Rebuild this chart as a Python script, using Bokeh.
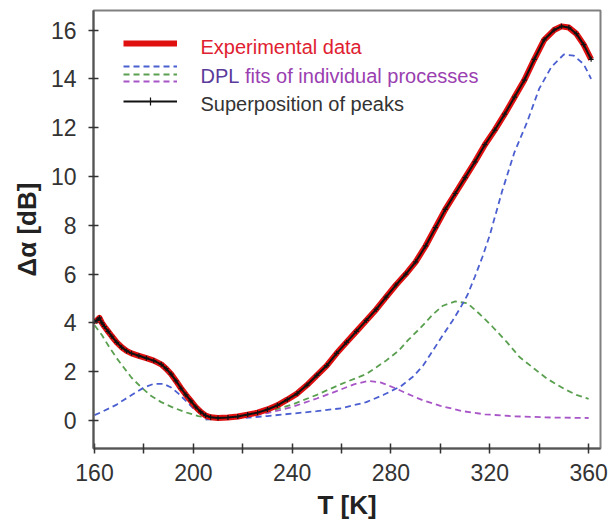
from bokeh.plotting import figure
from bokeh.models import Range1d, FixedTicker, Legend, LegendItem, Label
from bokeh.core.properties import value
from bokeh.embed import file_html
from bokeh.resources import INLINE

# ---------------- data ----------------
T_exp = [160, 161, 162, 163, 164, 165.5, 167, 169, 171, 173, 175, 178, 181, 184, 187, 189, 191,
         193, 195, 197, 199, 201, 203, 205, 207, 210, 214, 218, 222, 226, 230, 234, 238, 242, 246,
         250, 254, 258, 262, 266, 270, 274, 278, 282, 286, 290, 294, 298, 302, 306, 310, 314, 318,
         322, 326, 330, 334, 338, 342, 346, 349, 352, 355, 358, 361]
alpha_exp = [4.05, 4.1, 4.2, 4.0, 3.85, 3.65, 3.45, 3.2, 3.0, 2.85, 2.75, 2.65, 2.55, 2.45, 2.3, 2.12,
             1.9, 1.62, 1.32, 1.05, 0.8, 0.55, 0.35, 0.2, 0.13, 0.1, 0.12, 0.16, 0.24, 0.32, 0.45,
             0.62, 0.85, 1.1, 1.45, 1.85, 2.25, 2.75, 3.2, 3.65, 4.1, 4.55, 5.05, 5.55, 6.0, 6.5, 7.15,
             7.9, 8.65, 9.3, 9.95, 10.6, 11.3, 11.9, 12.55, 13.25, 13.95, 14.8, 15.6, 16.0, 16.15, 16.1,
             15.85, 15.4, 14.8]
alpha_sup = [4.05, 4.1, 4.2, 4.0, 3.85, 3.65, 3.45, 3.2, 3.0, 2.85, 2.75, 2.65, 2.55, 2.45, 2.3, 2.12,
             1.9, 1.62, 1.32, 1.05, 0.8, 0.55, 0.35, 0.2, 0.13, 0.1, 0.12, 0.16, 0.24, 0.32, 0.45,
             0.62, 0.85, 1.1, 1.45, 1.85, 2.25, 2.75, 3.2, 3.65, 4.1, 4.55, 5.05, 5.55, 6.0, 6.5, 7.15,
             7.9, 8.65, 9.3, 9.95, 10.6, 11.3, 11.9, 12.55, 13.25, 13.95, 14.8, 15.6, 16.0, 16.15, 16.1,
             15.85, 15.4, 14.8]

# low-temperature process (green, decaying)
T_p1 = [160, 163, 166, 169, 172, 175, 179, 183, 187, 192, 197, 202, 207, 212]
fit_p1 = [3.9, 3.5, 3.0, 2.55, 2.15, 1.75, 1.35, 1.0, 0.75, 0.52, 0.33, 0.18, 0.08, 0.04]
# low-temperature peak (blue)
T_p2 = [160, 163, 166, 169, 172, 176, 180, 184, 188, 191, 194, 197, 200, 203, 206, 210]
fit_p2 = [0.22, 0.35, 0.5, 0.65, 0.85, 1.1, 1.35, 1.5, 1.5, 1.35, 1.1, 0.8, 0.5, 0.28, 0.12, 0.05]
# ~272 K peak (purple)
T_p3 = [205, 210, 220, 230, 240, 250, 258, 265, 271, 276, 281, 287, 293, 300, 309, 318, 330, 345, 360]
fit_p3 = [0.05, 0.08, 0.16, 0.3, 0.55, 0.9, 1.2, 1.48, 1.62, 1.55, 1.35, 1.08, 0.82, 0.6, 0.38, 0.25,
          0.17, 0.12, 0.1]
# ~307 K peak (green)
T_p4 = [205, 210, 220, 230, 240, 250, 260, 270, 278, 283, 287, 292, 297, 301, 306, 311, 316, 321,
        327, 332, 338, 343, 350, 355, 360]
fit_p4 = [0.04, 0.08, 0.18, 0.36, 0.65, 1.05, 1.5, 1.9, 2.45, 2.85, 3.3, 3.8, 4.35, 4.7, 4.88, 4.8,
          4.35, 3.85, 3.2, 2.6, 2.12, 1.72, 1.3, 1.05, 0.88]
# ~350 K peak (blue)
T_p5 = [205, 210, 220, 230, 240, 250, 260, 270, 277, 284, 289, 293, 297, 301, 305, 308, 311, 314, 317,
        320, 325, 330, 335, 340, 345, 350, 354, 358, 361]
fit_p5 = [0.04, 0.06, 0.1, 0.18, 0.28, 0.38, 0.5, 0.75, 1.05, 1.4, 1.8, 2.25, 2.87, 3.5, 4.1, 4.6, 5.15,
          5.9, 6.7, 7.6, 9.4, 11.0, 12.2, 13.6, 14.5, 15.0, 14.95, 14.6, 14.0]

x_ticks = [160, 200, 240, 280, 320, 360]
x_minor = [180, 220, 260, 300, 340]
y_ticks = [0, 2, 4, 6, 8, 10, 12, 14, 16]

BLUE = "#4b5fd0"
GREEN = "#5aa050"
PURPLE = "#a855c8"
RED = "#e01010"
FONT = "Liberation Sans"

p = figure(width=612, height=531, output_backend="svg", toolbar_location=None,
           x_range=Range1d(159.6, 364.8), y_range=Range1d(-1.15, 16.8),
           min_border_left=93, min_border_right=12, min_border_top=10, min_border_bottom=83)
p.background_fill_color = "white"
p.border_fill_color = "white"
p.xgrid.visible = False
p.ygrid.visible = False
p.outline_line_color = "#808080"
p.outline_line_width = 2

for ax in (p.xaxis[0], p.yaxis[0]):
    ax.axis_line_color = "#555555"
    ax.axis_line_width = 2
    ax.major_tick_line_color = "#333333"
    ax.major_tick_line_width = 1.5
    ax.major_tick_in = 5
    ax.major_tick_out = 5
    ax.major_label_text_font = FONT
    ax.major_label_text_font_size = "23px"
    ax.major_label_text_color = "#333333"
    ax.axis_label_text_font = FONT
    ax.axis_label_text_font_size = "26px"
    ax.axis_label_text_font_style = "bold"
    ax.axis_label_text_color = "#222222"

p.xaxis.ticker = FixedTicker(ticks=x_ticks, minor_ticks=x_minor)
p.xaxis.minor_tick_in = 5
p.xaxis.minor_tick_out = 5
p.xaxis.minor_tick_line_color = "#333333"
p.xaxis.minor_tick_line_width = 1.5
p.xaxis.major_label_standoff = 10
p.xaxis.axis_label = "T [K]"
p.xaxis.axis_label_standoff = 6

p.yaxis.ticker = FixedTicker(ticks=y_ticks)
p.yaxis.minor_tick_line_color = None
p.yaxis.major_label_standoff = 12
p.yaxis.axis_label = "Δα [dB]"
p.yaxis.axis_label_standoff = 6

dash = "6 4"
r1 = p.line(T_p1, fit_p1, line_color=GREEN, line_width=1.8, line_dash=dash)
r2 = p.line(T_p2, fit_p2, line_color=BLUE, line_width=1.8, line_dash=dash)
r3 = p.line(T_p3, fit_p3, line_color=PURPLE, line_width=1.8, line_dash=dash)
r4 = p.line(T_p4, fit_p4, line_color=GREEN, line_width=1.8, line_dash=dash)
r5 = p.line(T_p5, fit_p5, line_color=BLUE, line_width=1.8, line_dash=dash)

r_exp = p.line(T_exp, alpha_exp, line_color=RED, line_width=6, line_join="round")
r_sup = p.line(T_exp, alpha_sup, line_color="#111111", line_width=2)
r_sup_m = p.scatter(T_exp, alpha_sup, marker="cross", size=5, line_color="#111111", line_width=1.2)


def sample(renderers, vy):
    lg = Legend(items=[LegendItem(label=value(" "), renderers=renderers)], location=(30, vy),
                glyph_width=54, glyph_height=20, label_height=20, label_width=1,
                label_standoff=0, padding=0, margin=0, spacing=0,
                border_line_alpha=0, background_fill_alpha=0,
                label_text_font_size="2px")
    p.add_layout(lg)


sample([r_exp], 395)
sample([r5], 372)
sample([r4], 364.5)
sample([r3], 357)
sample([r_sup, r_sup_m], 337)

label_kw = dict(x_units="screen", y_units="screen", text_font=FONT,
                text_font_size="20px", text_baseline="middle")
p.add_layout(Label(x=107, y=402, text="Experimental data", text_color="#e02030", **label_kw))
p.add_layout(Label(x=107, y=373, text="DPL", text_color="#5a3a9a", **label_kw))
p.add_layout(Label(x=151.5, y=373, text="fits of individual processes", text_color="#9a40b0", **label_kw))
p.add_layout(Label(x=107, y=344.5, text="Superposition of peaks", text_color="#333333", **label_kw))

open("out.html", "w").write(file_html(p, INLINE))
